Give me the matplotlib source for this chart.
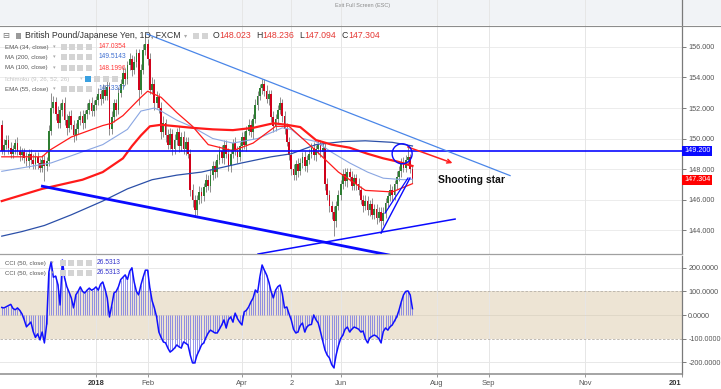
import numpy as np
import pandas as pd
import matplotlib
matplotlib.use("Agg")
import matplotlib.pyplot as plt
from matplotlib.patches import Rectangle, Ellipse
from matplotlib.lines import Line2D

plt.rcParams['font.family'] = ['Liberation Sans', 'DejaVu Sans']

W, H = 721, 389

# --- GBP/JPY daily candles, 2 Nov 2017 .. 17 Jul 2018 ---
first_open = 150.9
close_nov = [149.2, 149.6, 149.9, 149.4, 149.0, 149.3, 149.7, 149.2, 148.9, 149.1, 148.7,
             148.5, 149.0, 148.6, 148.3, 148.8, 148.4, 148.1, 148.6, 148.2, 148.5]
close_dec = [150.5, 152.0, 152.4, 151.6, 151.0, 151.9, 152.3, 151.2, 150.7, 151.5, 150.9,
             150.2, 150.6, 151.2, 151.5, 151.0, 151.6, 151.9, 152.3, 151.8, 152.2]
close_jan = [152.5, 152.9, 152.6, 153.2, 152.8, 153.4, 150.6, 151.4, 152.3, 151.9, 153.0, 153.6,
             154.3, 153.9, 154.8, 155.2, 154.5, 155.0, 155.6, 153.2, 154.5, 155.8, 156.2]
close_feb = [155.2, 153.2, 153.6, 152.3, 152.7, 152.0, 150.4, 151.0, 150.2, 149.6,
             150.3, 149.3, 149.9, 150.4, 149.5, 150.1, 149.3, 149.8, 149.0, 146.6]
close_mar = [146.0, 145.3, 146.0, 146.5, 146.2, 146.8, 147.3, 146.9, 147.6, 148.2, 147.8,
             148.6, 149.2, 148.7, 149.6, 149.0, 148.2, 149.0, 149.7, 149.2, 148.8, 149.5]
close_apr = [150.1, 149.6, 150.5, 150.9, 150.4, 151.3, 152.2, 152.8, 153.3, 153.6, 153.1,
             152.6, 152.9, 151.4, 150.8, 151.3, 151.9, 152.3, 151.5, 150.6, 149.8]
close_may = [148.9, 148.0, 147.6, 148.3, 147.9, 148.4, 148.8, 148.2, 148.6, 149.0, 149.4, 148.9,
             149.3, 149.6, 149.1, 149.4, 147.0, 146.3, 145.6, 145.2, 144.6, 145.6, 146.3]
close_jun = [147.0, 147.7, 147.2, 147.8, 147.5, 146.9, 147.4, 147.0, 146.6, 146.0, 145.6,
             145.9, 145.3, 145.7, 145.0, 145.4, 144.8, 145.2, 144.6, 145.1, 145.8]
close_jul = [146.2, 146.6, 146.3, 147.0, 147.5, 147.9, 148.4, 148.1, 148.6, 148.8, 148.023, 147.304]

up_nov = [0.3, 0.4, 0.3, 0.3, 0.4, 0.3, 0.3, 0.4, 0.3, 0.3, 0.3, 0.4, 0.3, 0.3, 0.4, 0.3, 0.3, 0.3, 0.3, 0.3, 0.3]
dn_nov = [0.2, 0.3, 0.3, 0.4, 0.3, 0.3, 0.3, 0.3, 0.4, 0.3, 0.3, 0.3, 0.4, 0.3, 0.3, 0.3, 0.4, 0.3, 0.3, 1.0, 0.3]
up_dec = [0.4, 1.0, 0.4, 0.3, 0.5, 0.4, 0.3, 0.4, 0.4, 0.3, 0.4, 0.3, 0.4, 0.3, 0.3, 0.4, 0.3, 0.4, 0.3, 0.4, 0.3]
dn_dec = [0.3, 0.3, 0.3, 0.4, 0.3, 0.3, 0.4, 0.3, 0.5, 0.3, 0.3, 0.4, 0.3, 0.3, 0.3, 0.4, 0.3, 0.3, 0.3, 0.3, 0.3]
up_jan = [0.3, 0.4, 0.3, 0.4, 0.3, 0.4, 0.3, 0.4, 0.3, 0.3, 0.4, 0.3, 0.4, 0.3, 0.3, 0.4, 0.3, 0.4, 0.3, 0.3, 0.4, 0.4, 0.6]
dn_jan = [0.3, 0.3, 0.4, 0.3, 0.3, 0.3, 0.4, 0.3, 0.3, 0.4, 0.3, 0.3, 0.3, 0.4, 0.3, 0.3, 0.4, 0.3, 0.3, 1.0, 0.3, 0.3, 0.3]
up_feb = [0.3, 0.4, 0.4, 0.3, 0.4, 0.3, 0.4, 0.5, 0.3, 0.4, 0.4, 0.3, 0.4, 0.3, 0.4, 0.3, 0.4, 0.3, 0.3, 0.3]
dn_feb = [0.4, 0.3, 0.3, 0.4, 0.3, 0.3, 0.4, 0.3, 0.4, 0.3, 0.3, 0.4, 0.3, 0.3, 0.4, 0.3, 0.3, 0.4, 0.3, 0.4]
up_mar = [0.4, 0.3, 0.3, 0.4, 0.3, 0.3, 0.4, 0.3, 0.4, 0.3, 0.3, 0.4, 0.3, 0.4, 0.3, 0.3, 0.4, 0.3, 0.3, 0.4, 0.3, 0.3]
dn_mar = [0.5, 0.4, 0.3, 0.3, 0.4, 0.3, 0.3, 0.3, 0.4, 0.3, 0.4, 0.3, 0.3, 0.3, 0.4, 0.3, 0.3, 0.4, 0.3, 0.3, 0.4, 0.3]
up_apr = [0.3, 0.4, 0.3, 0.4, 0.3, 0.3, 0.4, 0.3, 0.3, 0.3, 0.3, 0.4, 0.3, 0.3, 0.4, 0.3, 0.3, 0.4, 0.3, 0.3, 0.4]
dn_apr = [0.3, 0.3, 0.4, 0.3, 0.3, 0.4, 0.3, 0.3, 0.3, 0.4, 0.3, 0.3, 0.4, 0.3, 0.4, 0.3, 0.3, 0.3, 0.4, 0.3, 0.3]
up_may = [0.3, 0.4, 0.3, 0.3, 0.4, 0.3, 0.3, 0.4, 0.3, 0.3, 0.3, 0.4, 0.3, 0.3, 0.3, 0.3, 0.3, 0.4, 0.3, 0.3, 0.4, 0.3, 0.3]
dn_may = [0.3, 0.4, 0.3, 0.3, 0.4, 0.3, 0.3, 0.3, 0.4, 0.3, 0.3, 0.3, 0.4, 0.3, 0.3, 0.3, 0.4, 0.3, 0.4, 0.5, 1.0, 0.4, 0.3]
up_jun = [0.3, 0.3, 0.4, 0.3, 0.3, 0.4, 0.3, 0.3, 0.4, 0.3, 0.3, 0.4, 0.3, 0.3, 0.4, 0.3, 0.3, 0.3, 0.3, 0.4, 0.3]
dn_jun = [0.3, 0.3, 0.3, 0.4, 0.3, 0.3, 0.3, 0.4, 0.3, 0.3, 0.4, 0.3, 0.3, 0.4, 0.3, 0.3, 0.4, 0.3, 0.8, 0.3, 0.3]
up_jul = [0.3, 0.4, 0.3, 0.3, 0.4, 0.3, 0.3, 0.4, 0.3, 0.7, 0.2, 0.213]
dn_jul = [0.3, 0.3, 0.4, 0.3, 0.3, 0.3, 0.4, 0.3, 0.3, 0.3, 0.3, 0.21]

# CCI (50, close), one value per candle
cci_nov = [32, 30, 35, 40, 45, 28, 22, 30, 20, 5, -20, -50, -40, -30, -70, -95, -80, -105, -72, -118, -40]
cci_dec = [182, 225, 160, 165, 130, 42, 233, 157, 120, 97, 72, 30, 85, 100, 119, 100, 93, 105, 114, 105, 110]
cci_jan = [119, 105, 130, 140, 110, 72, -8, 40, 93, 100, 120, 150, 160, 170, 150, 185, 200, 140, 100, 85, 127, 160, 190]
cci_feb = [190, 114, 60, 30, -8, -72, -95, -114, -118, -140, -157, -150, -140, -127, -135, -140, -114, -120, -127, -170]
cci_mar = [-203, -203, -170, -150, -127, -118, -95, -76, -64, -70, -76, -76, -60, -42, -21, -55, -20, -8, -30, 8, -15, -30]
cci_apr = [-42, 13, 20, 34, 55, 72, 106, 95, 161, 212, 190, 170, 140, 100, 72, 105, 120, 127, 90, 30, 34]
cci_may = [5, -21, -60, -76, -72, -45, -34, -72, -50, -42, -40, 0, -20, -34, -70, -110, -148, -170, -182, -210, -224, -169, -130]
cci_jun = [-100, -85, -60, -51, -72, -60, -51, -55, -60, -72, -68, -100, -118, -97, -90, -85, -90, -100, -118, -70, -55]
cci_jul = [-64, -50, -42, -25, -8, 20, 55, 85, 100, 102, 85, 26.5313]

# moving averages, read at a few candles (candle index, value)
ema34_idx = [0, 18, 21, 31, 45, 49, 54, 62, 65, 71, 78, 85, 92, 103, 112, 122, 128, 134, 140, 150, 162, 174, 183]
ema34_val = [148.8, 148.8, 149.2, 150.1, 150.85, 151.0, 151.5, 152.7, 153.1, 152.7, 151.7, 150.8, 149.6,
             149.2, 149.7, 150.8, 150.8, 150.0, 149.2, 147.8, 146.6, 146.5, 147.04]
ema55_idx = [0, 22, 45, 56, 62, 68, 71, 78, 85, 94, 103, 114, 125, 129, 134, 140, 147, 155, 163, 170, 179, 183]
ema55_val = [147.85, 148.4, 149.6, 150.6, 151.8, 152.0, 151.8, 151.2, 150.75, 150.0, 149.7, 150.0, 150.7,
             150.6, 150.0, 149.8, 149.1, 148.4, 147.8, 147.4, 147.3, 147.33]
ma100_idx = [0, 9, 18, 27, 36, 45, 49, 54, 58, 62, 66, 71, 78, 85, 94, 103, 112, 121, 127, 133, 140, 147,
             155, 163, 170, 176, 183]
ma100_val = [145.9, 146.3, 146.7, 147.0, 147.3, 147.8, 148.2, 148.7, 149.5, 150.2, 150.8, 150.9, 150.8, 150.7,
             150.6, 150.55, 150.7, 151.0, 150.9, 150.75, 149.9, 149.6, 149.4, 149.0, 148.7, 148.5, 148.2]
ma200_idx = [0, 9, 19, 31, 45, 56, 67, 78, 89, 107, 120, 129, 140, 152, 162, 174, 183]
ma200_val = [143.6, 143.9, 144.3, 145.0, 145.9, 146.7, 147.3, 147.6, 147.8, 148.4, 148.8, 149.0, 149.6,
             149.8, 149.85, 149.75, 149.51]

# drawn annotations (candle index, price)
resist_line = ([64.7, 226.5], [156.85, 147.57])
support_down = ([17.5, 173.0], [146.89, 142.35])
support_up = ([114.2, 202.0], [142.43, 144.72])
steep_a = ([169.0, 181.9], [143.80, 147.41])
steep_b = ([170.8, 181.0], [145.11, 147.41])
arrow_from, arrow_to = (179.7, 149.51), (202.0, 148.33)
level = 149.2
last_close = 147.304

# time labels
label_dates = ['2018-01-01', '2018-02-01', '2018-04-02', '2018-05-02', '2018-06-01',
               '2018-08-01', '2018-09-03', '2018-11-01', '2019-01-01']
label_text = ['2018', 'Feb', 'Apr', '2', 'Jun', 'Aug', 'Sep', 'Nov', '201']

closes = np.array(close_nov + close_dec + close_jan + close_feb + close_mar + close_apr +
                  close_may + close_jun + close_jul)
up = np.array(up_nov + up_dec + up_jan + up_feb + up_mar + up_apr + up_may + up_jun + up_jul)
dn = np.array(dn_nov + dn_dec + dn_jan + dn_feb + dn_mar + dn_apr + dn_may + dn_jun + dn_jul)
cci = np.array(cci_nov + cci_dec + cci_jan + cci_feb + cci_mar + cci_apr + cci_may + cci_jun + cci_jul)

bdays = pd.bdate_range('2017-11-02', '2019-01-31')
idx = np.arange(len(closes))
opens = np.r_[first_open, closes[:-1]]
highs = np.maximum(opens, closes) + up
lows = np.minimum(opens, closes) - dn
tick_pos = bdays.get_indexer(pd.to_datetime(label_dates))

XL = (-0.78, 303.1)


def fx(px):
    return px / W


def fy(py):
    return 1 - py / H


fig = plt.figure(figsize=(W / 100, H / 100), dpi=100)
fig.patch.set_facecolor('white')

# top strip
fig.add_artist(Rectangle((0, fy(25)), 1, 25 / H, transform=fig.transFigure,
                         facecolor='#f1f3f6', edgecolor='none', zorder=-5))
fig.add_artist(Line2D([0, 1], [fy(25.5)] * 2, transform=fig.transFigure, color='#8c8c8c', lw=0.8))
fig.text(fx(363), fy(5), 'Exit Full Screen (ESC)', fontsize=4, color='#8a8a8a', ha='center', va='center')

# ---------------- price panel ----------------
ax = fig.add_axes([0, fy(254), fx(682), 254 / H])
ax.set_facecolor('none')
ax.set_xlim(*XL)
ax.set_ylim(142.43, 159.08)
for s in ['top', 'left']:
    ax.spines[s].set_visible(False)
ax.spines['right'].set_color('#7a7a7a')
ax.spines['right'].set_linewidth(0.9)
ax.spines['bottom'].set_color('#a0a0a0')
ax.spines['bottom'].set_linewidth(0.9)
ax.set_xticks([])
ax.yaxis.tick_right()
ax.set_yticks(np.arange(144, 157, 2))
ax.set_yticklabels(['%.3f' % v for v in np.arange(144, 157, 2)])
ax.tick_params(axis='y', labelsize=5.2, colors='#666666', labelcolor='#555555', length=3, width=0.6, pad=1.5)
for v in np.arange(144, 157, 2):
    ax.axhline(v, color='#ececec', lw=0.7, zorder=0)
for p in tick_pos:
    ax.axvline(p, color='#e6e6e6', lw=0.7, zorder=0)

# candles
ax.vlines(idx, lows, highs, color='#8e8e8e', lw=0.7, zorder=2)
body_lo = np.minimum(opens, closes)
body_h = np.maximum(np.abs(closes - opens), 0.05)
colors = np.where(closes >= opens, '#2e7d32', '#d0021b')
ax.bar(idx, body_h, bottom=body_lo, width=0.8, color=colors, linewidth=0, zorder=2.5)

# moving averages
ax.plot(ma200_idx, ma200_val, color='#2b4fa8', lw=0.9, zorder=3)
ax.plot(ema55_idx, ema55_val, color='#8aa6e2', lw=0.8, zorder=3)
ax.plot(ma100_idx, ma100_val, color='#ff1a1a', lw=1.6, zorder=3)
ax.plot(ema34_idx, ema34_val, color='#ff1a1a', lw=0.9, zorder=3)

# drawings
ax.axhline(level, color='#0a0aff', lw=1.2, zorder=4)
ax.plot(*resist_line, color='#4a86e8', lw=0.9, zorder=4)
ax.plot(*support_down, color='#0a0aff', lw=2.0, zorder=4, solid_capstyle='butt')
ax.plot(*support_up, color='#0a0aff', lw=1.1, zorder=4)
ax.plot(*steep_a, color='#0a0aff', lw=1.0, zorder=4)
ax.plot(*steep_b, color='#0a0aff', lw=0.9, zorder=4)
ax.annotate('', xy=arrow_to, xytext=arrow_from, zorder=4,
            arrowprops=dict(arrowstyle='->', color='#ff2020', lw=1.1, mutation_scale=7))
ax.add_patch(Ellipse((178.4, 149.0), 8.9, 1.31, facecolor='none', edgecolor='#0a0aff', lw=1.0, zorder=4))
ax.text(194.4, 147.28, 'Shooting star', fontsize=7.5, fontweight='bold', color='#111111',
        ha='left', va='center', zorder=5)

# right-axis price badges
ytr = ax.get_yaxis_transform()
ax.text(1.003, level, '%.3f' % level, transform=ytr, fontsize=5.2, color='white', va='center', ha='left',
        bbox=dict(boxstyle='square,pad=0.22', fc='#0a0aff', ec='none'), clip_on=False, zorder=6)
ax.text(1.003, last_close, '%.3f' % last_close, transform=ytr, fontsize=5.2, color='white', va='center',
        ha='left', bbox=dict(boxstyle='square,pad=0.22', fc='#ff0000', ec='none'), clip_on=False, zorder=6)

# ---------------- CCI panel ----------------
ax2 = fig.add_axes([0, fy(374), fx(682), (374 - 256) / H])
ax2.set_facecolor('none')
ax2.set_xlim(*XL)
ax2.set_ylim(-250, 250)
for s in ['top', 'left']:
    ax2.spines[s].set_visible(False)
ax2.spines['right'].set_color('#7a7a7a')
ax2.spines['right'].set_linewidth(0.9)
ax2.spines['bottom'].set_color('#8c8c8c')
ax2.spines['bottom'].set_linewidth(1.1)
ax2.yaxis.tick_right()
ax2.set_yticks([200, 100, 0, -100, -200])
ax2.set_yticklabels(['200.0000', '100.0000', '0.0000', '-100.0000', '-200.0000'])
ax2.tick_params(axis='y', labelsize=5.2, colors='#666666', labelcolor='#555555', length=3, width=0.6, pad=1.5)
ax2.set_xticks(tick_pos)
ax2.set_xticklabels(label_text)
ax2.tick_params(axis='x', labelsize=5.4, colors='#888888', labelcolor='#555555', length=2.5, width=0.6, pad=2)
for k in (0, len(label_text) - 1):
    ax2.get_xticklabels()[k].set_fontweight('bold')
    ax2.get_xticklabels()[k].set_color('#333333')
ax2.get_xticklabels()[-1].set_horizontalalignment('right')

ax2.axhspan(-100, 100, color='#ede4d4', lw=0, zorder=0)
for v in (200, -200):
    ax2.axhline(v, color='#e8e8e8', lw=0.7, zorder=0)
ax2.axhline(0, color='#ddd5c5', lw=0.6, zorder=0.5)
for v in (100, -100):
    ax2.axhline(v, color='#b5b0a8', lw=0.6, ls=(0, (3, 2)), zorder=0.6)
for p in tick_pos:
    ax2.axvline(p, color='#e6e6e6', lw=0.7, zorder=0.4)
ax2.vlines(idx, 0, cci, color='#6a6ae6', lw=0.5, zorder=2)
ax2.plot(idx, cci, color='#1010ff', lw=1.1, zorder=3)


# ---------------- legends ----------------
def icons(xs, y, first_color='#d4d4d4'):
    for k, x0 in enumerate(xs):
        c = first_color if k == 0 else '#d4d4d4'
        fig.add_artist(Rectangle((fx(x0), fy(y + 3.2)), 6.3 / W, 6.3 / H, transform=fig.transFigure,
                                 facecolor=c, edgecolor='none', zorder=6))


name_txt = dict(fontsize=4.4, va='center', ha='left', zorder=7)
val_txt = dict(fontsize=4.8, va='center', ha='left', zorder=7)
fig.text(fx(2.5), fy(36), '\u229f', fontsize=6, color='#777777', va='center', ha='left', zorder=7)
fig.add_artist(Rectangle((fx(16), fy(38.5)), 5 / W, 5 / H, transform=fig.transFigure,
                         facecolor='#9a9a9a', edgecolor='none', zorder=6))
fig.text(fx(25), fy(36), 'British Pound/Japanese Yen, 1D, FXCM', fontsize=6.3, color='#333333',
         va='center', ha='left', zorder=7)
fig.text(fx(184), fy(36), '\u25be', fontsize=4.5, color='#aaaaaa', va='center', ha='left', zorder=7)
icons([193, 201.5], 36)
for lx, letter, val in [(213, 'O', '148.023'), (256, 'H', '148.236'), (299, 'L', '147.094'), (342, 'C', '147.304')]:
    fig.text(fx(lx), fy(36), letter, fontsize=6.3, color='#333333', va='center', ha='left', zorder=7)
    fig.text(fx(lx + (5.2 if letter == 'L' else 6.6)), fy(36), val, fontsize=6.3, color='#e53935',
             va='center', ha='left', zorder=7)

rows = [(47, 'EMA (34, close)', '147.0354', '#ff3b3b'),
        (57, 'MA (200, close)', '149.5143', '#3f6fd1'),
        (68, 'MA (100, close)', '148.1996', '#ff3b3b'),
        (89, 'EMA (55, close)', '147.3317', '#3f6fd1')]
for y, name, val, vc in rows:
    fig.text(fx(5), fy(y), name, color='#555555', **name_txt)
    fig.text(fx(52.5), fy(y), '\u25be', fontsize=3.8, color='#aaaaaa', va='center', ha='left', zorder=7)
    icons([61, 68.5, 77, 85.5], y)
    fig.text(fx(99), fy(y), val, color=vc, **val_txt)
fig.text(fx(5), fy(79), 'Ichimoku (9, 26, 52, 26)', color='#c4c4c4', **name_txt)
fig.text(fx(79.5), fy(79), '\u25be', fontsize=3.8, color='#cccccc', va='center', ha='left', zorder=7)
icons([85, 94, 103, 112], 79, first_color='#3aa0e0')

for y in (263, 273):
    fig.text(fx(5), fy(y), 'CCI (50, close)', color='#555555', **name_txt)
    fig.text(fx(50.5), fy(y), '\u25be', fontsize=3.8, color='#aaaaaa', va='center', ha='left', zorder=7)
    icons([60, 68, 77, 86], y)
    fig.text(fx(97), fy(y), '26.5313', color='#3333cc', **val_txt)

fig.savefig('out.png', dpi=100)
